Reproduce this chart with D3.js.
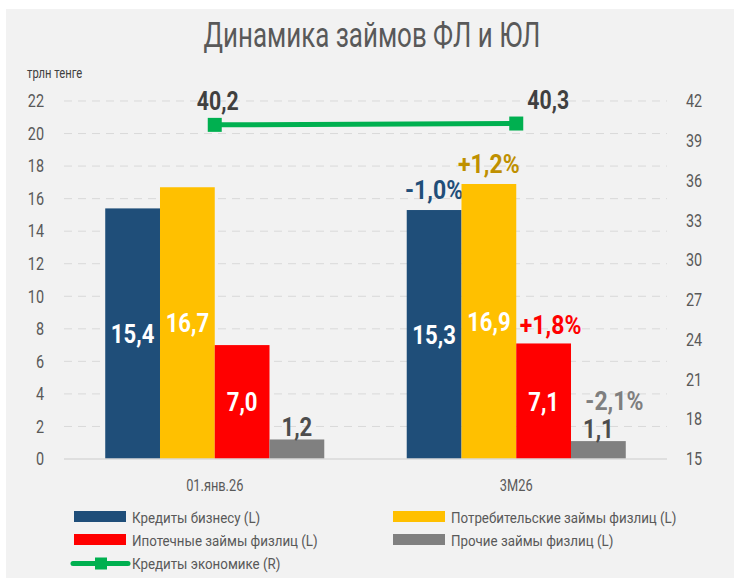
<!DOCTYPE html>
<html><head><meta charset="utf-8">
<script src="https://cdn.jsdelivr.net/npm/d3@7"></script>
<style>
html,body{margin:0;padding:0;background:#fff;}
svg text{font-family:Roboto,"Noto Sans",sans-serif;}
</style></head>
<body><svg id="c" width="734" height="578"></svg>
<script>
const categories = ["01.янв.26", "3М26"];
const seriesNames = ["Кредиты бизнесу (L)", "Потребительские займы физлиц (L)", "Ипотечные займы физлиц (L)", "Прочие займы физлиц (L)"];
const seriesColors = ["#1f4e79", "#ffc000", "#ff0000", "#808080"];
const businessLoans = [15.4, 15.3];
const consumerLoans = [16.7, 16.9];
const mortgageLoans = [7.0, 7.1];
const otherLoans = [1.2, 1.1];
const economyLoans = [40.2, 40.3];
const lineName = "Кредиты экономике (R)";
const changeLabels = ["-1,0%", "+1,2%", "+1,8%", "-2,1%"];
const changeColors = ["#1f4e79", "#bf9000", "#ff0000", "#7f7f7f"];
const leftTicks = [0, 2, 4, 6, 8, 10, 12, 14, 16, 18, 20, 22];
const rightTicks = [15, 18, 21, 24, 27, 30, 33, 36, 39, 42];

const values = [businessLoans, consumerLoans, mortgageLoans, otherLoans];
const fmt = v => d3.format(".1f")(v).replace(".", ",");

const svg = d3.select("#c");
svg.append("rect").attr("x", 6).attr("y", 9).attr("width", 728).attr("height", 569).attr("fill", "#f2f2f2");

svg.append("text").attr("class", "title").attr("x", 372).attr("y", 47).attr("text-anchor", "middle")
  .attr("font-size", 35).attr("fill", "#595959").text("Динамика займов ФЛ и ЮЛ");
svg.append("text").attr("class", "cond").attr("x", 27).attr("y", 78).attr("font-size", 14).attr("fill", "#404040").text("трлн тенге");

const x0 = d3.scaleBand().domain(categories).range([64, 667]);
const x1 = d3.scaleBand().domain(d3.range(4)).range([0, x0.bandwidth()]).paddingOuter(0.753);
const yL = d3.scaleLinear().domain([0, 22]).range([459, 101]);
const yR = d3.scaleLinear().domain([15, 42]).range([459, 101]);

// grid
svg.append("g").selectAll("line").data(leftTicks.filter(d => d > 0)).join("line")
  .attr("x1", 64).attr("x2", 667).attr("y1", d => yL(d)).attr("y2", d => yL(d))
  .attr("stroke", "#d9d9d9").attr("stroke-width", 1).attr("stroke-dasharray", "8,6");

// left axis
const axL = svg.append("g").attr("transform", "translate(44,0)")
  .call(d3.axisLeft(yL).tickValues(leftTicks).tickSize(0).tickPadding(0));
axL.select(".domain").remove();
axL.selectAll("text").attr("class", "cond").attr("font-size", 18).attr("fill", "#595959");

// right axis
const axR = svg.append("g").attr("transform", "translate(686,0)")
  .call(d3.axisRight(yR).tickValues(rightTicks).tickSize(0).tickPadding(0));
axR.select(".domain").remove();
axR.selectAll("text").attr("class", "cond").attr("font-size", 18).attr("fill", "#595959");

// bars
const pctDx = [0, 0, 7, 16];
categories.forEach((c, ci) => {
  const g = svg.append("g").attr("transform", `translate(${x0(c)},0)`);
  values.forEach((arr, si) => {
    const v = arr[ci];
    g.append("rect").attr("x", x1(si)).attr("width", x1.bandwidth())
      .attr("y", yL(v)).attr("height", yL(0) - yL(v)).attr("fill", seriesColors[si]);
    const cx = x1(si) + x1.bandwidth() / 2;
    if (si < 3) {
      g.append("text").attr("class", "condb").attr("x", cx).attr("y", (yL(v) + yL(0)) / 2).attr("dy", "0.36em")
        .attr("text-anchor", "middle").attr("font-size", 26).attr("font-weight", "bold")
        .attr("fill", "#fff").text(fmt(v));
    } else {
      g.append("text").attr("class", "condb").attr("x", cx).attr("y", yL(v) - 3)
        .attr("text-anchor", "middle").attr("font-size", 26).attr("font-weight", "bold")
        .attr("fill", "#4d4d4d").text(fmt(v));
    }
    if (ci === 1) {
      const off = si === 3 ? 40 : (si === 2 ? 18.5 : 20);
      g.append("text").attr("class", "pct").attr("x", cx + pctDx[si]).attr("y", yL(v) - off).attr("dy", "0.36em")
        .attr("text-anchor", "middle").attr("font-size", 25).attr("font-weight", "bold")
        .attr("fill", changeColors[si]).text(changeLabels[si]);
    }
  });
});

// baseline
svg.append("line").attr("x1", 64).attr("x2", 667).attr("y1", yL(0)).attr("y2", yL(0))
  .attr("stroke", "#d9d9d9").attr("stroke-width", 1.5);

// category labels
categories.forEach(c => {
  svg.append("text").attr("class", "cond").attr("x", x0(c) + x0.bandwidth() / 2).attr("y", 491)
    .attr("text-anchor", "middle").attr("font-size", 16).attr("fill", "#595959").text(c);
});

// line
const lx = c => x0(c) + x0.bandwidth() / 2;
const lineGen = d3.line().x((d, i) => lx(categories[i])).y(d => yR(d));
svg.append("path").datum(economyLoans).attr("d", lineGen).attr("fill", "none")
  .attr("stroke", "#00b050").attr("stroke-width", 5);
svg.append("g").selectAll("rect").data(economyLoans).join("rect")
  .attr("x", (d, i) => lx(categories[i]) - 7).attr("y", d => yR(d) - 7)
  .attr("width", 14).attr("height", 14).attr("fill", "#00b050");
const lineLabelDx = [3, 32];
svg.append("g").selectAll("text").data(economyLoans).join("text").attr("class", "condb")
  .attr("x", (d, i) => lx(categories[i]) + lineLabelDx[i]).attr("y", d => yR(d) - 24).attr("dy", "0.36em")
  .attr("text-anchor", "middle").attr("font-size", 25).attr("font-weight", "bold")
  .attr("fill", "#404040").text(d => fmt(d));

// legend
const legPos = [[74, 517], [393, 517], [74, 540], [393, 540]];
seriesNames.forEach((n, i) => {
  const [lx0, ly] = legPos[i];
  svg.append("rect").attr("x", lx0).attr("y", ly - 6).attr("width", 52).attr("height", 11).attr("fill", seriesColors[i]);
  svg.append("text").attr("class", "leg").attr("x", lx0 + 58).attr("y", ly).attr("dy", "0.36em").attr("font-size", 15.5)
    .attr("fill", "#595959").text(n);
});
svg.append("line").attr("x1", 73).attr("x2", 128).attr("y1", 563.5).attr("y2", 563.5)
  .attr("stroke", "#00b050").attr("stroke-width", 5).attr("stroke-linecap", "round");
svg.append("rect").attr("x", 95).attr("y", 557.5).attr("width", 12).attr("height", 12).attr("fill", "#00b050");
svg.append("text").attr("class", "leg").attr("x", 132).attr("y", 563.5).attr("dy", "0.36em").attr("font-size", 15.5)
  .attr("fill", "#595959").text(lineName);

// condense glyphs horizontally to mimic the condensed face
function condense(sel, f) {
  sel.each(function () {
    const w = this.getComputedTextLength();
    d3.select(this).attr("textLength", w * f).attr("lengthAdjust", "spacingAndGlyphs");
  });
}
condense(svg.selectAll("text.title"), 0.74);
condense(svg.selectAll("text.cond"), 0.8);
condense(svg.selectAll("text.leg"), 0.86);
condense(svg.selectAll("text.condb"), 0.85);
condense(svg.selectAll("text.pct"), 0.92);
</script></body></html>
